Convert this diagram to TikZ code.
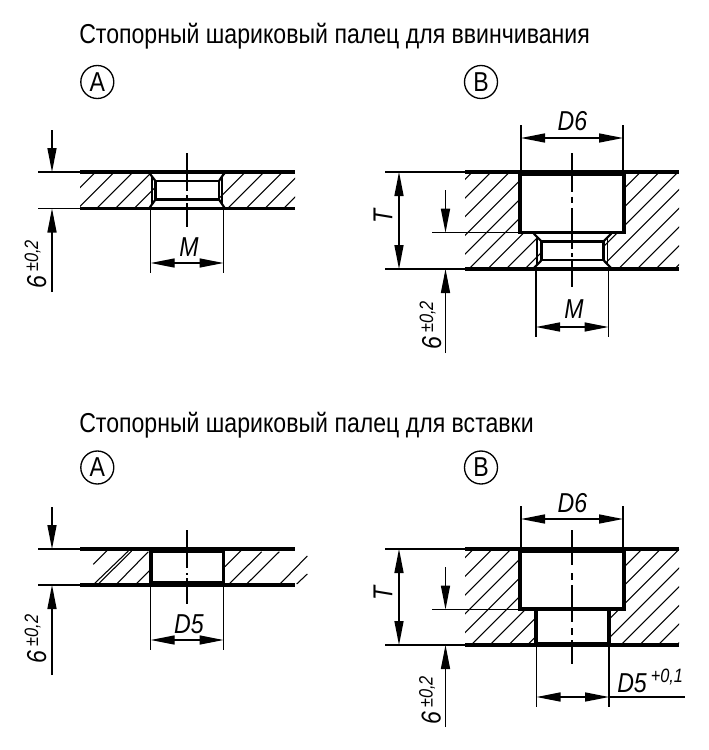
\documentclass[tikz,border=0pt]{standalone}
\usepackage{fontspec}
\setmainfont[FakeStretch=0.845,ItalicFont={Liberation Sans Italic},ItalicFeatures={FakeStretch=0.845}]{Liberation Sans}
\usetikzlibrary{arrows.meta}
\newcommand{\bigsize}{\fontsize{20.5pt}{24pt}\selectfont}
\newcommand{\smallsize}{\fontsize{14.5pt}{17pt}\selectfont}
\tikzset{
  thin line/.style={line width=1pt,black},
  heavy/.style={line width=2.4pt,black,line cap=butt},
  inner rect/.style={line width=1.9pt,black},
  bar/.style={line width=3.6pt,black,line cap=butt},
  medium/.style={line width=1.6pt,black},
  hatchline/.style={line width=0.8pt,black},
  dimline/.style={thin line,{Triangle[length=18pt,width=6.8pt]}-{Triangle[length=18pt,width=6.8pt]}},
  leader/.style={thin line,-{Triangle[length=18pt,width=6.8pt]}},
  title/.style={font=\bigsize,anchor=base west,inner sep=0pt},
  dimtext/.style={font=\bigsize\itshape,inner sep=0pt,anchor=base},
  tol/.style={font=\bigsize\itshape,inner sep=0pt,rotate=90,anchor=base west},
  badge/.style={circle,draw,line width=1pt,minimum size=24.75pt,inner sep=0pt,font=\bigsize},
}
% hatch: 45 degree lines with x+y = offset + k*18.7, clipped to a closed path
\newcommand{\hatchregion}[2]{%
  \begin{scope}
    \clip #1;
    \foreach \k in {-60,...,60} {
      \pgfmathsetmacro{\s}{#2+\k*18.7}
      \draw[hatchline] (\s-800,800) -- (\s,0);
    }
  \end{scope}}
\newcommand{\toltext}[1]{6\hspace{3pt}\raisebox{6pt}{\smallsize #1}}
\begin{document}
\begin{tikzpicture}[x=0.75pt,y=-0.75pt]
\useasboundingbox (0,0) rectangle (708,750);
\fill[white] (0,0) rectangle (708,750);

% ---------- titles and badges
\node[title] (t1) at (79,43.5) {Стопорный шариковый палец для ввинчивания};
\node[title] (t2) at (79,432.5) {Стопорный шариковый палец для вставки};
\node[badge] (a1) at (97.3,82) {A};
\node[badge] (b1) at (481,82) {B};
\node[badge] (a2) at (97.3,467.5) {A};
\node[badge] (b2) at (481,467.5) {B};

% ---------- top left (A)
\hatchregion{(80,172) -- (149,172) -- (155,181) -- (155,199) -- (149,208.5) -- (80,208.5) -- cycle}{267.7}
\hatchregion{(295,172) -- (225,172) -- (219,181) -- (219,199) -- (225,208.5) -- (295,208.5) -- cycle}{267.7}
\draw[heavy] (80,172) -- (295,172);
\draw[heavy] (80,208.5) -- (295,208.5);
\draw[inner rect] (155.5,181) rectangle (219,199.5);
\draw[medium] (148.5,172) -- (155.5,181) (149,208.5) -- (155.5,199.5);
\draw[medium] (225,172) -- (219,181) (225,208.5) -- (219,199.5);
\draw[thin line] (152,177) -- (152,204) (222,177) -- (222,204);
\draw[thin line] (187,153) -- (187,191) (187,195) -- (187,200) (187,203) -- (187,227);
\draw[thin line] (38,172) -- (80,172) (38,208.5) -- (80,208.5);
\coordinate (a1up) at (52,130);
\coordinate (a1top) at (52,172);
\coordinate (a1bot) at (52,208.5);
\coordinate (a1down) at (52,292);
\draw[leader] (a1up) -- (a1top);
\draw[leader] (a1down) -- (a1bot);
\node[tol] (a1tol) at (46,289) {\toltext{±0,2}};
\draw[thin line] (150.7,208.5) -- (150.7,273) (223.5,208.5) -- (223.5,273);
\coordinate (a1ml) at (150.7,263);
\coordinate (a1mr) at (223.5,263);
\draw[dimline] (a1ml) -- (a1mr);
\node[dimtext] (a1m) at (189,256) {M};

% ---------- top right (B)
\hatchregion{(465,172) -- (520,172) -- (520,232.7) -- (533,232.7) -- (541.7,241.7) -- (541.7,260) -- (533,269) -- (465,269) -- cycle}{644.3}
\hatchregion{(679,172) -- (624,172) -- (624,232.7) -- (612,232.7) -- (603.3,241.7) -- (603.3,260) -- (612,269) -- (679,269) -- cycle}{644.3}
\draw[heavy] (465,172) -- (679,172);
\draw[heavy] (465,269) -- (679,269);
\draw[bar] (520,173.5) -- (624,173.5);
\draw[heavy] (520,172) -- (520,232.7) -- (624,232.7) -- (624,172);
\draw[inner rect] (541.7,241.7) rectangle (603.3,260);
\draw[medium] (533,232.7) -- (541.7,241.7) (533,269) -- (541.7,260);
\draw[medium] (612,232.7) -- (603.3,241.7) (612,269) -- (603.3,260);
\draw[thin line] (537,238) -- (537,264) (607.7,238) -- (607.7,264);
\draw[thin line] (572,153) -- (572,191.7) (572,196.7) -- (572,202.7) (572,208) -- (572,249) (572,253) -- (572,257) (572,261) -- (572,287);
\draw[thin line] (521,125) -- (521,172) (623,125) -- (623,172);
\coordinate (b1dl) at (521,138);
\coordinate (b1dr) at (623,138);
\draw[dimline] (b1dl) -- (b1dr);
\node[dimtext] (b1d) at (572.5,130) {D6};
\draw[thin line] (385,172) -- (465,172) (385,269) -- (465,269) (432,232.7) -- (520,232.7);
\coordinate (b1tt) at (399,172);
\coordinate (b1tb) at (399,269);
\draw[dimline] (b1tt) -- (b1tb);
\node[dimtext,rotate=90,anchor=center] (b1t) at (383,216) {T};
\coordinate (b1up) at (445.5,190);
\coordinate (b1s) at (445.5,232.7);
\coordinate (b1b) at (445.5,269);
\coordinate (b1down) at (445.5,353);
\draw[leader] (b1up) -- (b1s);
\draw[leader] (b1down) -- (b1b);
\node[tol] (b1tol) at (441,350) {\toltext{±0,2}};
\draw[thin line] (536,269) -- (536,337) (608.5,269) -- (608.5,337);
\coordinate (b1ml) at (536,327);
\coordinate (b1mr) at (608.5,327);
\draw[dimline] (b1ml) -- (b1mr);
\node[dimtext] (b1m) at (574,318) {M};

% ---------- bottom left (A)
\foreach \xa/\ya/\xb/\yb in {93.3/564.3/108.3/549.3, 94/584/128.3/551, 98.3/584/131.7/551, 116.7/584/148.3/551.7, 136/584/149.3/570.7,
  225/566.7/241.7/550, 229/584/261.7/551.7, 246.7/584/279.3/551.7, 280/584/307.3/556, 296.7/584/307.3/574}
  \draw[hatchline] (\xa,\ya) -- (\xb,\yb);
\draw[heavy] (80,549) -- (295,549);
\draw[heavy] (80,585) -- (295,585);
\draw[bar] (150,551) -- (224,551) (150,583.5) -- (224,583.5);
\draw[heavy] (151,549) -- (151,585) (223.5,549) -- (223.5,585);
\draw[thin line] (187,530) -- (187,568) (187,573) -- (187,575) (187,578) -- (187,604);
\draw[thin line] (38,549) -- (80,549) (38,585) -- (80,585);
\coordinate (a2up) at (52,507);
\coordinate (a2top) at (52,549);
\coordinate (a2bot) at (52,585);
\coordinate (a2down) at (52,675);
\draw[leader] (a2up) -- (a2top);
\draw[leader] (a2down) -- (a2bot);
\node[tol] (a2tol) at (46,663.5) {\toltext{±0,2}};
\draw[thin line] (150.7,585) -- (150.7,650) (223.5,585) -- (223.5,650);
\coordinate (a2dl) at (150.7,640);
\coordinate (a2dr) at (223.5,640);
\draw[dimline] (a2dl) -- (a2dr);
\node[dimtext] (a2d) at (189,633) {D5};

% ---------- bottom right (B)
\hatchregion{(465,549) -- (520,549) -- (520,609) -- (536,609) -- (536,645) -- (465,645) -- cycle}{1022.7}
\hatchregion{(679,549) -- (624,549) -- (624,609) -- (609,609) -- (609,645) -- (679,645) -- cycle}{1022.7}
\draw[heavy] (465,549) -- (679,549);
\draw[heavy] (465,645) -- (679,645);
\draw[bar] (520,550.5) -- (624,550.5) (536,644) -- (609,644);
\draw[heavy] (520,549) -- (520,609) -- (624,609) -- (624,549);
\draw[heavy] (536,609) -- (536,645) (609,609) -- (609,645);
\draw[thin line] (572,530) -- (572,565) (572,573) -- (572,580) (572,585) -- (572,622) (572,628) -- (572,635) (572,640) -- (572,664);
\draw[thin line] (521,506) -- (521,549) (623,506) -- (623,549);
\coordinate (b2dl) at (521,519);
\coordinate (b2dr) at (623,519);
\draw[dimline] (b2dl) -- (b2dr);
\node[dimtext] (b2d) at (572.5,512) {D6};
\draw[thin line] (385,549) -- (465,549) (385,645) -- (465,645) (432,609.5) -- (520,609.5);
\coordinate (b2tt) at (399,549);
\coordinate (b2tb) at (399,645);
\draw[dimline] (b2tt) -- (b2tb);
\node[dimtext,rotate=90,anchor=center] (b2t) at (383,593) {T};
\coordinate (b2up) at (445.5,567);
\coordinate (b2s) at (445.5,609.5);
\coordinate (b2b) at (445.5,645);
\coordinate (b2down) at (445.5,727);
\draw[leader] (b2up) -- (b2s);
\draw[leader] (b2down) -- (b2b);
\node[tol] (b2tol) at (440.5,725) {\toltext{±0,2}};
\draw[thin line] (536.5,645) -- (536.5,707) (609,645) -- (609,707);
\coordinate (b2dl2) at (536.5,697);
\coordinate (b2dr2) at (609,697);
\coordinate (b2end) at (685,697);
\draw[dimline] (b2dl2) -- (b2dr2);
\draw[thin line] (b2dr2) -- (b2end);
\node[dimtext,anchor=base west] (b2e) at (617,692) {D5\hspace{3pt}\raisebox{7.5pt}{\smallsize +0,1}};
\end{tikzpicture}
\end{document}
